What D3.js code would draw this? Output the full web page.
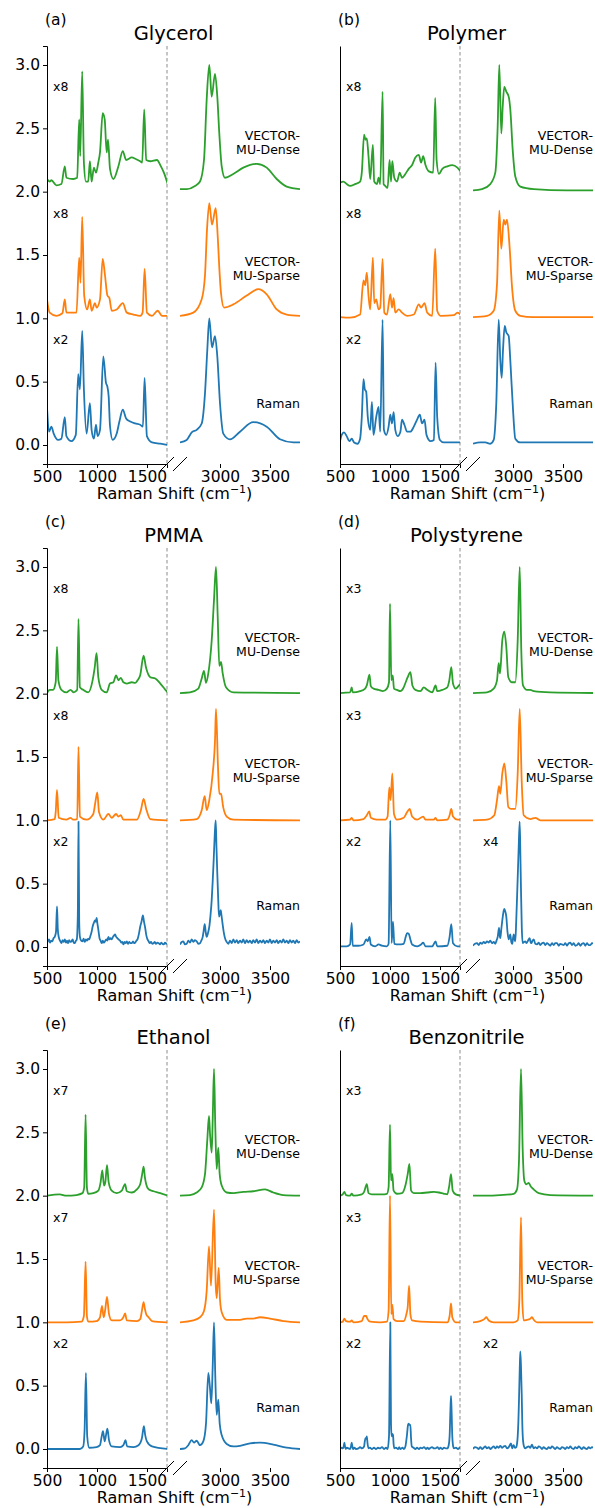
<!DOCTYPE html>
<html><head><meta charset="utf-8">
<script src="https://cdn.jsdelivr.net/npm/d3@7"></script>
<style>body{margin:0;background:#fff} svg{display:block;font-family:"DejaVu Sans",sans-serif}</style>
</head><body><svg id="c" width="595" height="1508"></svg>
<script>
// ---------- categories / labels ----------
const panelNames = ["Glycerol", "Polymer", "PMMA", "Polystyrene", "Ethanol", "Benzonitrile"];
const panelTags = ["(a)", "(b)", "(c)", "(d)", "(e)", "(f)"];
const seriesNames = ["Raman", "VECTOR-MU-Sparse", "VECTOR-MU-Dense"];
const seriesOffsets = [0, 1, 2];
const seriesColors = ["#1f77b4", "#ff7f0e", "#2ca02c"];
const scaleLabelsFP = [["x2","x8","x8"],["x2","x8","x8"],["x2","x8","x8"],["x2","x3","x3"],["x2","x7","x7"],["x2","x3","x3"]];
const scaleLabelsCH = [null, null, null, "x4", null, "x2"];
const yTickValues = [0, 0.5, 1.0, 1.5, 2.0, 2.5, 3.0];
const fpTickValues = [500, 1000, 1500];
const chTickValues = [3000, 3500];
const fpRange = [500, 1700];
const chRange = [2600, 3800];
const yRange = [-0.15, 3.15];

// ---------- spectra: [wavenumber cm-1, normalised intensity] ----------
// (a) Glycerol
const glyRamanFP = [[500,0.30],[520,0.105],[544,0.145],[567,0.09],[611,0.04],[644,0.05],[678,0.22],[694,0.07],[745,0.03],[788,0.08],[812,0.56],[829,0.44],[852,0.90],[869,0.44],[896,0.09],[929,0.33],[946,0.12],[969,0.05],[990,0.16],[1006,0.07],[1030,0.12],[1063,0.70],[1090,0.49],[1104,0.46],[1117,0.38],[1130,0.15],[1157,0.04],[1197,0.09],[1224,0.185],[1258,0.28],[1291,0.21],[1332,0.185],[1382,0.17],[1432,0.16],[1459,0.145],[1476,0.53],[1499,0.07],[1550,0.02],[1633,0.01],[1707,0.0]];
const glyRamanCH = [[2600,0.02],[2667,0.04],[2717,0.10],[2767,0.12],[2817,0.17],[2850,0.41],[2873,0.75],[2893,1.0],[2920,0.77],[2950,0.86],[2973,0.70],[3000,0.33],[3033,0.09],[3100,0.045],[3200,0.105],[3333,0.18],[3467,0.145],[3600,0.045],[3733,0.02],[3800,0.02]];
const glySparseFP = [[500,0.15],[527,0.045],[594,0.02],[654,0.04],[678,0.15],[694,0.045],[795,0.045],[822,0.48],[835,0.28],[852,0.80],[872,0.18],[902,0.07],[929,0.15],[946,0.06],[980,0.12],[996,0.085],[1030,0.15],[1057,0.47],[1080,0.34],[1104,0.18],[1124,0.16],[1147,0.06],[1197,0.07],[1258,0.12],[1298,0.045],[1365,0.03],[1432,0.02],[1456,0.045],[1476,0.39],[1499,0.045],[1550,0.02],[1607,0.06],[1650,0.02],[1707,0.02]];
const glySparseCH = [[2600,0.02],[2733,0.045],[2817,0.15],[2850,0.34],[2870,0.70],[2893,0.91],[2920,0.74],[2957,0.87],[2977,0.65],[2993,0.40],[3010,0.20],[3040,0.085],[3133,0.11],[3267,0.18],[3383,0.23],[3467,0.19],[3567,0.07],[3667,0.03],[3800,0.02]];
const glyDenseFP = [[500,0.10],[527,0.08],[544,0.09],[594,0.05],[644,0.06],[678,0.20],[694,0.11],[762,0.10],[802,0.11],[822,0.57],[832,0.28],[852,0.95],[869,0.23],[889,0.08],[912,0.08],[929,0.24],[946,0.08],[969,0.19],[990,0.15],[1013,0.23],[1030,0.31],[1057,0.62],[1077,0.57],[1097,0.31],[1110,0.41],[1130,0.18],[1164,0.10],[1214,0.20],[1258,0.32],[1291,0.25],[1348,0.27],[1382,0.26],[1432,0.24],[1452,0.23],[1472,0.65],[1492,0.25],[1533,0.24],[1600,0.25],[1633,0.21],[1674,0.14],[1707,0.06]];
const glyDenseCH = [[2600,0.02],[2667,0.02],[2750,0.045],[2800,0.08],[2840,0.25],[2867,0.73],[2893,1.0],[2917,0.75],[2950,0.93],[2973,0.75],[2993,0.46],[3017,0.20],[3050,0.11],[3133,0.14],[3233,0.19],[3367,0.22],[3467,0.19],[3567,0.10],[3667,0.04],[3800,0.02]];
// (b) Polymer
const polRamanFP = [[500,0.03],[517,0.08],[540,0.10],[567,0.07],[594,0.03],[617,0.05],[641,0.02],[674,0.01],[701,0.05],[718,0.22],[735,0.52],[748,0.44],[762,0.42],[778,0.22],[802,0.12],[819,0.34],[835,0.08],[862,0.22],[886,0.30],[902,0.105],[926,0.99],[939,0.12],[963,0.08],[986,0.145],[1003,0.24],[1020,0.17],[1036,0.26],[1053,0.12],[1077,0.07],[1104,0.105],[1120,0.20],[1144,0.16],[1171,0.105],[1204,0.105],[1238,0.145],[1271,0.20],[1298,0.24],[1321,0.17],[1345,0.20],[1365,0.08],[1405,0.03],[1439,0.04],[1456,0.65],[1472,0.22],[1499,0.04],[1539,0.02],[1714,0.02]];
const polRamanCH = [[2600,0.01],[2673,0.02],[2723,0.02],[2773,0.01],[2807,0.04],[2833,0.33],[2857,0.99],[2873,0.67],[2887,0.53],[2900,0.75],[2917,0.94],[2933,0.89],[2957,0.86],[2973,0.67],[3000,0.28],[3023,0.05],[3073,0.02],[3207,0.02],[3813,0.02]];
const polSparseFP = [[500,0.01],[601,0.005],[701,0.03],[735,0.30],[751,0.26],[768,0.36],[785,0.18],[802,0.07],[829,0.48],[842,0.12],[862,0.15],[886,0.07],[902,0.085],[926,0.47],[943,0.045],[969,0.03],[1003,0.19],[1020,0.085],[1036,0.16],[1053,0.045],[1087,0.07],[1120,0.045],[1171,0.02],[1238,0.03],[1288,0.11],[1311,0.085],[1345,0.12],[1372,0.045],[1422,0.02],[1452,0.55],[1472,0.06],[1506,0.02],[1640,0.025],[1674,0.045],[1714,0.02]];
const polSparseCH = [[2600,0.01],[2740,0.02],[2807,0.06],[2840,0.27],[2863,0.85],[2883,0.55],[2907,0.78],[2923,0.74],[2940,0.78],[2967,0.55],[2990,0.25],[3023,0.06],[3073,0.02],[3200,0.01],[3813,0.01]];
const polDenseFP = [[500,0.07],[534,0.08],[567,0.06],[601,0.045],[651,0.06],[701,0.08],[718,0.15],[741,0.45],[755,0.41],[768,0.42],[785,0.28],[802,0.10],[829,0.37],[842,0.08],[869,0.06],[886,0.11],[902,0.06],[926,0.79],[936,0.06],[953,0.045],[976,0.03],[996,0.25],[1010,0.08],[1023,0.24],[1043,0.11],[1070,0.08],[1097,0.15],[1120,0.11],[1154,0.14],[1187,0.18],[1221,0.21],[1254,0.27],[1288,0.29],[1311,0.23],[1332,0.28],[1355,0.21],[1389,0.16],[1432,0.15],[1452,0.74],[1466,0.25],[1489,0.14],[1523,0.18],[1573,0.20],[1623,0.21],[1674,0.19],[1714,0.15]];
const polDenseCH = [[2600,0.01],[2690,0.02],[2773,0.06],[2823,0.15],[2847,0.52],[2863,1.0],[2883,0.46],[2897,0.67],[2913,0.83],[2933,0.79],[2957,0.75],[2973,0.65],[2997,0.33],[3023,0.12],[3073,0.04],[3207,0.02],[3540,0.01],[3813,0.01]];
// (c) PMMA
const pmmaRamanFP = [[500,0.03],[510,0.05],[520,0.06],[530,0.035],[542,0.05],[554,0.045],[566,0.07],[577,0.08],[590,0.12],[600,0.32],[608,0.14],[617,0.08],[630,0.05],[644,0.03],[656,0.055],[667,0.04],[678,0.06],[690,0.035],[700,0.05],[711,0.03],[722,0.055],[733,0.04],[745,0.045],[756,0.06],[767,0.035],[778,0.03],[790,0.05],[798,0.06],[808,0.25],[815,0.99],[822,0.2],[829,0.08],[842,0.05],[855,0.045],[866,0.065],[877,0.04],[889,0.06],[900,0.05],[911,0.065],[922,0.06],[935,0.09],[946,0.12],[956,0.16],[968,0.19],[980,0.21],[988,0.2],[996,0.23],[1005,0.18],[1013,0.14],[1025,0.07],[1036,0.05],[1047,0.03],[1058,0.05],[1069,0.035],[1080,0.045],[1092,0.06],[1103,0.05],[1114,0.08],[1125,0.06],[1136,0.07],[1147,0.06],[1160,0.08],[1170,0.09],[1181,0.10],[1192,0.08],[1204,0.07],[1216,0.06],[1231,0.05],[1244,0.035],[1255,0.04],[1264,0.02],[1276,0.04],[1287,0.03],[1298,0.045],[1310,0.025],[1322,0.04],[1335,0.03],[1348,0.03],[1360,0.045],[1371,0.03],[1382,0.035],[1394,0.05],[1405,0.06],[1418,0.1],[1432,0.16],[1445,0.2],[1459,0.25],[1470,0.2],[1482,0.15],[1494,0.09],[1505,0.06],[1516,0.045],[1528,0.03],[1540,0.04],[1553,0.025],[1566,0.03],[1578,0.04],[1590,0.025],[1604,0.035],[1617,0.03],[1630,0.02],[1642,0.035],[1655,0.025],[1667,0.02],[1680,0.035],[1693,0.025],[1707,0.03]];
const pmmaRamanCH = [[2600,0.02],[2617,0.04],[2633,0.045],[2650,0.02],[2667,0.025],[2683,0.05],[2700,0.035],[2717,0.06],[2733,0.04],[2750,0.055],[2767,0.045],[2783,0.025],[2800,0.03],[2813,0.05],[2827,0.08],[2837,0.13],[2847,0.18],[2857,0.12],[2867,0.08],[2880,0.11],[2893,0.16],[2905,0.25],[2917,0.37],[2927,0.52],[2937,0.69],[2947,0.88],[2957,1.0],[2965,0.78],[2973,0.58],[2982,0.38],[2990,0.24],[2998,0.26],[3007,0.29],[3015,0.25],[3023,0.20],[3037,0.12],[3050,0.07],[3067,0.04],[3083,0.025],[3100,0.05],[3117,0.03],[3133,0.06],[3150,0.035],[3167,0.055],[3183,0.03],[3200,0.05],[3217,0.035],[3233,0.06],[3250,0.03],[3267,0.055],[3283,0.035],[3300,0.05],[3317,0.03],[3333,0.055],[3350,0.035],[3367,0.06],[3383,0.03],[3400,0.05],[3417,0.035],[3433,0.055],[3450,0.03],[3467,0.05],[3483,0.035],[3500,0.06],[3517,0.03],[3533,0.05],[3550,0.035],[3567,0.055],[3583,0.03],[3600,0.05],[3617,0.035],[3633,0.06],[3650,0.035],[3667,0.05],[3683,0.03],[3700,0.055],[3717,0.035],[3733,0.05],[3750,0.03],[3767,0.055],[3783,0.035],[3800,0.045]];
const pmmaSparseFP = [[500,0.0],[577,0.01],[587,0.065],[600,0.24],[617,0.02],[694,0.005],[735,0.02],[762,0.005],[802,0.01],[815,0.58],[829,0.03],[896,0.005],[963,0.05],[983,0.14],[1003,0.22],[1020,0.065],[1063,0.005],[1114,0.05],[1147,0.02],[1191,0.05],[1214,0.03],[1238,0.04],[1264,0.005],[1399,0.005],[1439,0.08],[1466,0.17],[1492,0.09],[1533,0.01],[1707,0.0]];
const pmmaSparseCH = [[2600,0.0],[2767,0.01],[2817,0.08],[2847,0.19],[2867,0.08],[2893,0.16],[2927,0.37],[2950,0.63],[2960,0.88],[2980,0.42],[2993,0.21],[3010,0.21],[3033,0.10],[3067,0.03],[3133,0.005],[3800,0.0]];
const pmmaDenseFP = [[500,0.005],[527,0.03],[560,0.03],[587,0.09],[600,0.37],[614,0.105],[644,0.03],[694,0.01],[735,0.03],[768,0.01],[802,0.03],[815,0.59],[829,0.05],[862,0.03],[912,0.01],[956,0.105],[976,0.20],[996,0.32],[1013,0.13],[1047,0.03],[1097,0.01],[1130,0.08],[1164,0.09],[1191,0.145],[1214,0.105],[1238,0.125],[1264,0.09],[1298,0.08],[1348,0.09],[1382,0.085],[1405,0.105],[1432,0.145],[1466,0.30],[1489,0.21],[1533,0.13],[1583,0.12],[1633,0.08],[1684,0.03],[1707,0.01]];
const pmmaDenseCH = [[2600,0.005],[2700,0.01],[2783,0.04],[2817,0.12],[2840,0.18],[2860,0.085],[2883,0.16],[2917,0.42],[2940,0.74],[2960,1.0],[2977,0.61],[2993,0.22],[3010,0.25],[3027,0.16],[3060,0.05],[3133,0.01],[3800,0.005]];
// (d) Polystyrene
const psRamanFP = [[500,0.005],[567,0.005],[601,0.02],[617,0.19],[627,0.01],[684,0.01],[735,0.02],[762,0.06],[778,0.045],[795,0.08],[808,0.02],[852,0.005],[886,0.02],[919,0.01],[969,0.005],[986,0.025],[1003,1.0],[1016,0.03],[1030,0.20],[1043,0.025],[1087,0.02],[1137,0.025],[1157,0.08],[1171,0.11],[1187,0.105],[1204,0.06],[1221,0.02],[1271,0.005],[1311,0.02],[1332,0.035],[1355,0.005],[1422,0.005],[1456,0.045],[1472,0.005],[1573,0.01],[1596,0.08],[1613,0.18],[1630,0.03],[1674,0.005],[1714,0.005]];
const psRamanCH = [[2600,0.01],[2620,0.025],[2640,0.03],[2657,0.015],[2673,0.035],[2690,0.025],[2707,0.04],[2723,0.03],[2740,0.045],[2757,0.035],[2773,0.05],[2790,0.03],[2807,0.04],[2823,0.025],[2835,0.05],[2847,0.08],[2860,0.15],[2866,0.1],[2873,0.07],[2883,0.14],[2893,0.21],[2903,0.27],[2913,0.30],[2923,0.28],[2933,0.24],[2945,0.12],[2957,0.06],[2965,0.08],[2973,0.10],[2983,0.04],[2993,0.025],[3000,0.07],[3007,0.10],[3015,0.06],[3023,0.045],[3032,0.2],[3040,0.38],[3050,0.62],[3057,0.79],[3067,0.99],[3074,0.72],[3080,0.45],[3088,0.15],[3097,0.03],[3110,0.04],[3123,0.045],[3135,0.03],[3150,0.05],[3167,0.07],[3175,0.04],[3183,0.03],[3195,0.05],[3207,0.06],[3223,0.025],[3240,0.02],[3257,0.035],[3273,0.015],[3290,0.03],[3307,0.035],[3323,0.015],[3340,0.03],[3357,0.02],[3373,0.01],[3390,0.03],[3407,0.015],[3423,0.03],[3440,0.03],[3457,0.01],[3473,0.025],[3490,0.02],[3507,0.015],[3523,0.03],[3540,0.01],[3557,0.03],[3573,0.035],[3590,0.015],[3607,0.03],[3623,0.01],[3640,0.015],[3657,0.03],[3673,0.01],[3690,0.025],[3707,0.03],[3723,0.01],[3740,0.03],[3757,0.015],[3773,0.015],[3790,0.03],[3813,0.025]];
const psSparseFP = [[500,0.0],[601,0.005],[617,0.02],[634,0.0],[735,0.01],[768,0.04],[792,0.07],[808,0.02],[869,0.005],[953,0.005],[976,0.03],[993,0.26],[1006,0.16],[1023,0.37],[1040,0.05],[1070,0.005],[1137,0.02],[1171,0.065],[1197,0.09],[1221,0.03],[1271,0.005],[1332,0.03],[1355,0.005],[1439,0.005],[1456,0.02],[1472,0.0],[1573,0.005],[1596,0.04],[1613,0.09],[1630,0.03],[1674,0.005],[1714,0.005]];
const psSparseCH = [[2600,0.0],[2740,0.005],[2813,0.04],[2840,0.16],[2860,0.27],[2873,0.21],[2893,0.37],[2913,0.45],[2933,0.31],[2953,0.105],[2980,0.09],[3023,0.09],[3047,0.37],[3067,0.88],[3087,0.31],[3107,0.04],[3173,0.01],[3223,0.02],[3273,0.0],[3813,0.0]];
const psDenseFP = [[500,0.005],[601,0.01],[617,0.05],[627,0.01],[701,0.02],[751,0.04],[768,0.065],[795,0.15],[808,0.06],[835,0.04],[886,0.03],[929,0.02],[969,0.04],[990,0.09],[1000,0.71],[1013,0.105],[1027,0.145],[1040,0.04],[1070,0.03],[1104,0.02],[1137,0.05],[1157,0.09],[1177,0.13],[1204,0.17],[1224,0.065],[1254,0.03],[1305,0.02],[1338,0.05],[1372,0.03],[1422,0.01],[1456,0.065],[1472,0.02],[1523,0.03],[1573,0.05],[1593,0.105],[1613,0.21],[1630,0.08],[1657,0.04],[1690,0.065],[1714,0.085]];
const psDenseCH = [[2600,0.005],[2740,0.01],[2807,0.04],[2840,0.105],[2857,0.24],[2870,0.16],[2893,0.42],[2913,0.49],[2933,0.37],[2953,0.13],[2990,0.09],[3023,0.09],[3047,0.42],[3067,1.0],[3083,0.34],[3100,0.065],[3140,0.03],[3173,0.03],[3207,0.02],[3373,0.01],[3813,0.005]];
// (e) Ethanol
const etRamanFP = [[500,0.0],[829,0.0],[862,0.02],[876,0.15],[889,0.60],[902,0.10],[922,0.01],[996,0.015],[1030,0.03],[1047,0.10],[1060,0.14],[1077,0.06],[1090,0.11],[1104,0.16],[1120,0.07],[1147,0.02],[1231,0.015],[1264,0.03],[1285,0.07],[1301,0.02],[1365,0.015],[1415,0.03],[1449,0.085],[1469,0.18],[1482,0.11],[1499,0.06],[1550,0.02],[1707,0.0]];
const etRamanCH = [[2600,0.0],[2650,0.005],[2683,0.03],[2717,0.07],[2740,0.05],[2767,0.065],[2800,0.03],[2833,0.06],[2860,0.20],[2883,0.60],[2900,0.48],[2913,0.36],[2927,0.65],[2940,1.0],[2953,0.57],[2967,0.27],[2983,0.39],[2997,0.20],[3017,0.11],[3067,0.04],[3133,0.02],[3200,0.025],[3300,0.045],[3400,0.05],[3533,0.035],[3667,0.01],[3800,0.0]];
const etSparseFP = [[500,0.0],[694,0.0],[845,0.005],[869,0.05],[886,0.48],[899,0.05],[912,0.005],[996,0.01],[1030,0.04],[1050,0.13],[1067,0.04],[1083,0.105],[1100,0.20],[1120,0.065],[1147,0.015],[1231,0.015],[1264,0.04],[1281,0.07],[1298,0.015],[1399,0.01],[1432,0.025],[1449,0.09],[1466,0.16],[1479,0.105],[1492,0.065],[1516,0.04],[1550,0.01],[1707,0.0]];
const etSparseCH = [[2600,0.0],[2733,0.015],[2800,0.04],[2840,0.09],[2867,0.25],[2890,0.60],[2910,0.29],[2940,0.89],[2957,0.30],[2967,0.19],[2987,0.43],[3000,0.18],[3017,0.08],[3067,0.02],[3200,0.02],[3267,0.03],[3333,0.03],[3400,0.04],[3500,0.03],[3633,0.01],[3800,0.0]];
const etDenseFP = [[500,0.0],[627,0.01],[694,0.0],[795,0.005],[855,0.02],[872,0.065],[886,0.64],[899,0.065],[912,0.015],[963,0.02],[1013,0.04],[1036,0.105],[1053,0.20],[1070,0.08],[1083,0.105],[1100,0.24],[1117,0.105],[1147,0.04],[1197,0.02],[1248,0.04],[1271,0.08],[1281,0.09],[1298,0.035],[1348,0.025],[1399,0.05],[1432,0.09],[1452,0.17],[1466,0.23],[1479,0.145],[1492,0.09],[1516,0.05],[1566,0.035],[1633,0.02],[1707,0.0]];
const etDenseCH = [[2600,0.0],[2700,0.005],[2767,0.025],[2817,0.065],[2850,0.17],[2873,0.44],[2890,0.63],[2900,0.49],[2917,0.34],[2927,0.60],[2940,1.0],[2953,0.54],[2967,0.21],[2983,0.38],[2997,0.17],[3017,0.08],[3067,0.025],[3133,0.02],[3233,0.03],[3333,0.035],[3450,0.05],[3533,0.025],[3633,0.005],[3800,0.0]];
// (f) Benzonitrile
const bnRamanFP = [[500,0.0],[515,0.01],[527,0.005],[537,0.02],[544,0.05],[550,0.02],[557,0.0],[570,0.01],[585,0.005],[601,0.0],[610,0.02],[617,0.05],[624,0.02],[631,0.0],[645,0.01],[660,0.0],[684,0.005],[700,0.015],[720,0.005],[741,0.02],[748,0.06],[755,0.085],[762,0.08],[768,0.10],[776,0.04],[785,0.005],[800,0.01],[819,0.0],[840,0.01],[860,0.0],[880,0.01],[902,0.005],[920,0.015],[940,0.0],[960,0.01],[976,0.0],[990,0.10],[1003,1.0],[1010,0.2],[1016,0.10],[1023,0.12],[1030,0.11],[1036,0.04],[1043,0.005],[1060,0.01],[1080,0.0],[1092,0.015],[1104,0.0],[1125,0.01],[1140,0.0],[1154,0.02],[1162,0.06],[1171,0.12],[1180,0.19],[1187,0.20],[1195,0.19],[1204,0.19],[1210,0.09],[1218,0.02],[1236,0.01],[1254,0.0],[1270,0.01],[1290,0.0],[1305,0.01],[1321,0.005],[1340,0.015],[1360,0.0],[1375,0.01],[1389,0.0],[1405,0.01],[1420,0.015],[1440,0.005],[1456,0.005],[1475,0.015],[1490,0.0],[1505,0.01],[1523,0.0],[1540,0.01],[1557,0.005],[1573,0.005],[1587,0.03],[1596,0.10],[1604,0.3],[1610,0.42],[1616,0.3],[1623,0.10],[1632,0.02],[1640,0.005],[1660,0.01],[1680,0.0],[1697,0.01],[1714,0.0]];
const bnRamanCH = [[2600,0.0],[2620,0.015],[2640,0.01],[2657,0.0],[2673,0.015],[2690,0.0],[2707,0.01],[2723,0.02],[2740,0.005],[2757,0.015],[2773,0.0],[2790,0.01],[2807,0.02],[2823,0.005],[2840,0.02],[2857,0.01],[2873,0.025],[2890,0.01],[2907,0.02],[2923,0.025],[2940,0.005],[2957,0.015],[2968,0.03],[2980,0.045],[2987,0.02],[2993,0.005],[3000,0.02],[3007,0.03],[3020,0.01],[3033,0.015],[3040,0.04],[3047,0.10],[3054,0.22],[3060,0.39],[3067,0.62],[3073,0.77],[3080,0.65],[3087,0.44],[3093,0.2],[3100,0.07],[3110,0.02],[3123,0.005],[3140,0.015],[3157,0.02],[3173,0.01],[3190,0.035],[3198,0.02],[3207,0.005],[3223,0.015],[3240,0.005],[3257,0.02],[3273,0.015],[3290,0.0],[3307,0.015],[3323,0.005],[3340,0.0],[3357,0.015],[3373,0.005],[3390,0.02],[3407,0.01],[3423,0.0],[3440,0.015],[3457,0.005],[3473,0.0],[3490,0.015],[3507,0.01],[3523,0.0],[3540,0.015],[3557,0.005],[3573,0.02],[3590,0.005],[3607,0.0],[3623,0.015],[3640,0.005],[3657,0.02],[3673,0.01],[3690,0.0],[3707,0.015],[3723,0.005],[3740,0.0],[3757,0.015],[3773,0.005],[3790,0.015],[3813,0.005]];
const bnSparseFP = [[500,0.0],[527,0.005],[544,0.03],[560,0.01],[601,0.005],[617,0.015],[634,0.0],[718,0.01],[741,0.05],[762,0.05],[775,0.025],[802,0.005],[902,0.0],[969,0.005],[986,0.09],[1000,1.0],[1013,0.065],[1023,0.14],[1036,0.025],[1070,0.01],[1137,0.01],[1164,0.065],[1177,0.12],[1191,0.29],[1204,0.065],[1221,0.015],[1305,0.005],[1573,0.0],[1596,0.05],[1610,0.15],[1623,0.04],[1657,0.0],[1714,0.0]];
const bnSparseCH = [[2600,0.0],[2673,0.01],[2713,0.025],[2733,0.04],[2757,0.015],[2807,0.0],[3007,0.0],[3047,0.015],[3063,0.17],[3080,0.83],[3093,0.17],[3107,0.015],[3140,0.02],[3167,0.025],[3190,0.04],[3207,0.02],[3240,0.0],[3813,0.0]];
const bnDenseFP = [[500,0.0],[527,0.01],[544,0.03],[560,0.005],[601,0.0],[617,0.015],[634,0.0],[718,0.01],[741,0.03],[768,0.09],[785,0.02],[819,0.01],[919,0.01],[969,0.015],[986,0.065],[1000,0.56],[1010,0.12],[1023,0.17],[1036,0.04],[1070,0.015],[1120,0.02],[1154,0.08],[1177,0.17],[1194,0.25],[1211,0.04],[1238,0.02],[1305,0.02],[1372,0.025],[1439,0.03],[1489,0.025],[1539,0.015],[1573,0.01],[1593,0.08],[1610,0.17],[1627,0.04],[1657,0.01],[1714,0.0]];
const bnDenseCH = [[2600,0.0],[2740,0.0],[2873,0.005],[3007,0.015],[3040,0.05],[3060,0.28],[3080,1.0],[3097,0.36],[3113,0.12],[3133,0.09],[3157,0.10],[3180,0.07],[3207,0.05],[3257,0.02],[3373,0.005],[3813,0.0]];

// table built from the arrays: per panel, per series [FP, CH]
const spectra = [
  [[glyRamanFP, glyRamanCH], [glySparseFP, glySparseCH], [glyDenseFP, glyDenseCH]],
  [[polRamanFP, polRamanCH], [polSparseFP, polSparseCH], [polDenseFP, polDenseCH]],
  [[pmmaRamanFP, pmmaRamanCH], [pmmaSparseFP, pmmaSparseCH], [pmmaDenseFP, pmmaDenseCH]],
  [[psRamanFP, psRamanCH], [psSparseFP, psSparseCH], [psDenseFP, psDenseCH]],
  [[etRamanFP, etRamanCH], [etSparseFP, etSparseCH], [etDenseFP, etDenseCH]],
  [[bnRamanFP, bnRamanCH], [bnSparseFP, bnSparseCH], [bnDenseFP, bnDenseCH]]
];

// ---------- layout ----------
const svg = d3.select("#c");
const FONT = "DejaVu Sans, sans-serif";
const colLeft = [47, 340];
const rowTop = [46, 548, 1050];
const plotH = 418;
const fpW = 120, gap = 13, chW = 120;
const defs = svg.append("defs");

panelNames.forEach((name, i) => {
  const col = i % 2, row = Math.floor(i / 2);
  const x0 = colLeft[col], top = rowTop[row], bottom = top + plotH;
  const xF = d3.scaleLinear().domain(fpRange).range([x0, x0 + fpW]);
  const xC = d3.scaleLinear().domain(chRange).range([x0 + fpW + gap, x0 + fpW + gap + chW]);
  const y = d3.scaleLinear().domain(yRange).range([bottom, top]);
  const g = svg.append("g");

  const cf = "clipF" + i, cc = "clipC" + i;
  defs.append("clipPath").attr("id", cf).append("rect")
    .attr("x", x0).attr("y", top - 5).attr("width", fpW).attr("height", plotH + 10);
  defs.append("clipPath").attr("id", cc).append("rect")
    .attr("x", x0 + fpW + gap).attr("y", top - 5).attr("width", chW).attr("height", plotH + 10);

  // dashed separator
  g.append("line").attr("x1", x0 + fpW).attr("x2", x0 + fpW).attr("y1", top).attr("y2", bottom)
    .attr("stroke", "#8c8c8c").attr("stroke-width", 1).attr("stroke-dasharray", "3.5,2.5");

  const lineF = off => d3.line().x(d => xF(d[0])).y(d => y(d[1] + off)).curve(d3.curveMonotoneX);
  const lineC = off => d3.line().x(d => xC(d[0])).y(d => y(d[1] + off)).curve(d3.curveMonotoneX);
  spectra[i].forEach((s, k) => {
    const off = seriesOffsets[k];
    g.append("path").attr("d", lineF(off)(s[0])).attr("fill", "none")
      .attr("stroke", seriesColors[k]).attr("stroke-width", 1.8).attr("stroke-linejoin", "round")
      .attr("clip-path", `url(#${cf})`);
    g.append("path").attr("d", lineC(off)(s[1])).attr("fill", "none")
      .attr("stroke", seriesColors[k]).attr("stroke-width", 1.8).attr("stroke-linejoin", "round")
      .attr("clip-path", `url(#${cc})`);
  });

  // y axis
  const yAxis = d3.axisLeft(y).tickValues(yTickValues).tickSizeOuter(0).tickPadding(3)
    .tickSize(col === 0 ? 4 : 0).tickFormat(col === 0 ? d3.format(".1f") : () => "");
  const ya = g.append("g").attr("transform", `translate(${x0},0)`).call(yAxis);
  ya.attr("font-family", FONT).attr("font-size", 15.5);

  // bottom axes
  const xa = g.append("g").attr("transform", `translate(0,${bottom})`)
    .call(d3.axisBottom(xF).tickValues(fpTickValues).tickFormat(d3.format("d"))
      .tickSizeOuter(0).tickSize(4).tickPadding(3));
  xa.attr("font-family", FONT).attr("font-size", 15.5);
  const xb = g.append("g").attr("transform", `translate(0,${bottom})`)
    .call(d3.axisBottom(xC).tickValues(chTickValues).tickFormat(d3.format("d"))
      .tickSizeOuter(0).tickSize(4).tickPadding(3));
  xb.attr("font-family", FONT).attr("font-size", 15.5);
  xb.select(".domain").remove();

  // break marks
  [x0 + fpW, x0 + fpW + gap].forEach(bx => {
    g.append("line").attr("x1", bx - 7).attr("y1", bottom + 7).attr("x2", bx + 7).attr("y2", bottom - 7)
      .attr("stroke", "#000").attr("stroke-width", 1);
  });

  // axis label
  const lab = g.append("text").attr("x", x0 + (fpW + gap + chW) / 2 + 1).attr("y", bottom + 35)
    .attr("text-anchor", "middle").attr("font-family", FONT).attr("font-size", 16);
  lab.append("tspan").text("Raman Shift (cm");
  lab.append("tspan").text("\u22121").attr("font-size", 11).attr("dy", -6);
  lab.append("tspan").text(")").attr("dy", 6);

  // title and tag
  g.append("text").attr("x", x0 + (fpW + gap + chW) / 2).attr("y", top - 6.5)
    .attr("text-anchor", "middle").attr("font-family", FONT).attr("font-size", 19.5).text(name);
  g.append("text").attr("x", x0 - 2).attr("y", top - 21)
    .attr("font-family", FONT).attr("font-size", 15.5).text(panelTags[i]);

  // scale factor labels
  seriesOffsets.forEach((off, k) => {
    g.append("text").attr("x", xF(560)).attr("y", y(off + 0.83)).attr("dy", "0.35em")
      .attr("font-family", FONT).attr("font-size", 12.5).text(scaleLabelsFP[i][k]);
  });
  if (scaleLabelsCH[i]) {
    g.append("text").attr("x", xC(2700)).attr("y", y(0.83)).attr("dy", "0.35em")
      .attr("font-family", FONT).attr("font-size", 12.5).text(scaleLabelsCH[i]);
  }

  // series names
  const xr = xC(3800);
  seriesNames.forEach((sn, k) => {
    const off = seriesOffsets[k];
    if (sn === "Raman") {
      g.append("text").attr("x", xr).attr("y", y(off + 0.33)).attr("dy", "0.35em")
        .attr("text-anchor", "end").attr("font-family", FONT).attr("font-size", 12.5).text(sn);
    } else {
      const parts = ["VECTOR-", sn.replace("VECTOR-", "")];
      parts.forEach((p, j) => {
        g.append("text").attr("x", xr).attr("y", y(off + 0.445 - j * 0.11)).attr("dy", "0.35em")
          .attr("text-anchor", "end").attr("font-family", FONT).attr("font-size", 12.5).text(p);
      });
    }
  });
});
</script>
</body></html>
